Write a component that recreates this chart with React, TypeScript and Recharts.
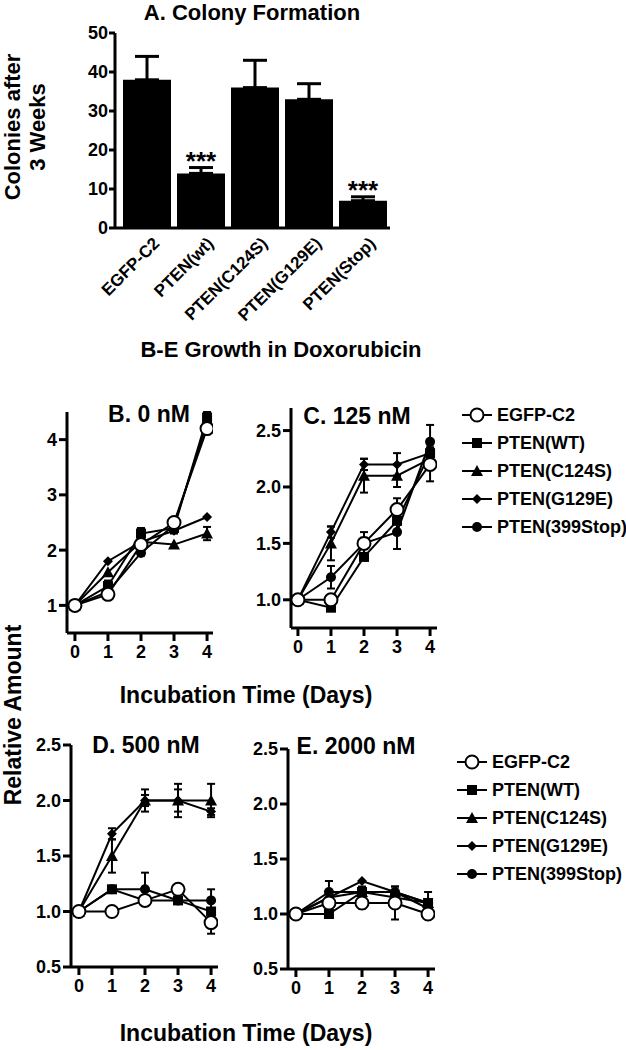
import React from "react";
import { ComposedChart, LineChart, Line, Bar, XAxis, YAxis, ErrorBar, Scatter } from "recharts";

const FONT = '"Liberation Sans", Arial, Helvetica, sans-serif';

// ---- A. colony formation ----
const colonyGroups = ["EGFP-C2", "PTEN(wt)", "PTEN(C124S)", "PTEN(G129E)", "PTEN(Stop)"];
const colonyMeans = [38, 14, 36, 33, 7];
const colonyErr = [6, 1.5, 7, 4, 1];
const colonySig = ["", "***", "", "", "***"];
const colonyTicks = [0, 10, 20, 30, 40, 50];

// ---- B-E growth curves ----
const days = [0, 1, 2, 3, 4];
const seriesNames = ["EGFP-C2", "PTEN(WT)", "PTEN(C124S)", "PTEN(G129E)", "PTEN(399Stop)"];
const seriesKeys = ["egfp", "wt", "c124s", "g129e", "stop"];
const seriesShapes = ["open", "square", "triangle", "diamond", "dot"];

// rows follow seriesNames order
const b0Values = [
  [1, 1.2, 2.1, 2.5, 4.2],
  [1, 1.35, 2.3, 2.4, 4.4],
  [1, 1.6, 2.15, 2.1, 2.3],
  [1, 1.8, 2.15, 2.35, 2.6],
  [1, 1.25, 1.95, 2.45, 4.3],
];
const b0Errors = [
  [0, 0.05, 0.05, 0.05, 0.1],
  [0, 0.1, 0.1, 0.1, 0.1],
  [0, 0, 0, 0, 0.12],
  [0, 0, 0, 0, 0],
  [0, 0.05, 0.05, 0.1, 0.15],
];

const c125Values = [
  [1, 1.0, 1.5, 1.8, 2.2],
  [1, 0.93, 1.38, 1.7, 2.3],
  [1, 1.5, 2.1, 2.1, 2.25],
  [1, 1.6, 2.2, 2.2, 2.3],
  [1, 1.2, 1.5, 1.6, 2.4],
];
const c125Errors = [
  [0, 0, 0.1, 0.1, 0.15],
  [0, 0, 0, 0, 0],
  [0, 0.15, 0.15, 0.1, 0.1],
  [0, 0.05, 0.05, 0.1, 0.1],
  [0, 0.1, 0.05, 0.15, 0.15],
];

const d500Values = [
  [1, 1.0, 1.1, 1.2, 0.9],
  [1, 1.2, 1.1, 1.1, 1.0],
  [1, 1.5, 2.0, 2.0, 2.0],
  [1, 1.7, 2.0, 2.0, 1.9],
  [1, 1.2, 1.2, 1.1, 1.1],
];
const d500Errors = [
  [0, 0, 0.03, 0.03, 0.1],
  [0, 0.03, 0.03, 0.03, 0.03],
  [0, 0.15, 0.1, 0.15, 0.15],
  [0, 0.05, 0.05, 0.1, 0.03],
  [0, 0.03, 0.15, 0.03, 0.1],
];

const e2000Values = [
  [1, 1.1, 1.1, 1.1, 1.0],
  [1, 1.0, 1.2, 1.15, 1.1],
  [1, 1.15, 1.2, 1.2, 1.1],
  [1, 1.15, 1.3, 1.2, 1.05],
  [1, 1.2, 1.2, 1.2, 1.1],
];
const e2000Errors = [
  [0, 0.03, 0.05, 0.15, 0.03],
  [0, 0, 0.03, 0.03, 0.03],
  [0, 0, 0, 0, 0],
  [0, 0, 0, 0, 0],
  [0, 0.1, 0.05, 0.05, 0.1],
];

const colonyRows = colonyGroups.map((g, i) => ({
  group: g,
  mean: colonyMeans[i],
  errBar: [0, colonyErr[i]],
  sig: colonySig[i],
  starY: colonySig[i] ? colonyMeans[i] + colonyErr[i] : null,
}));

function buildRows(values: number[][], errors: number[][]) {
  return days.map((d, i) => {
    const row: any = { day: d };
    seriesKeys.forEach((k, s) => {
      row[k] = values[s][i];
      row[k + "Err"] = errors[s][i] || null;
    });
    return row;
  });
}

function Marker({ cx, cy, shape }: any) {
  if (cx == null || cy == null) return null;
  switch (shape) {
    case "open":
      return <circle cx={cx} cy={cy} r={6.5} fill="#fff" stroke="#000" strokeWidth={2} />;
    case "square":
      return <rect x={cx - 5} y={cy - 5} width={10} height={10} fill="#000" />;
    case "triangle":
      return <polygon points={`${cx},${cy - 6} ${cx - 6},${cy + 5} ${cx + 6},${cy + 5}`} fill="#000" />;
    case "diamond":
      return <polygon points={`${cx},${cy - 5} ${cx + 5},${cy} ${cx},${cy + 5} ${cx - 5},${cy}`} fill="#000" />;
    default:
      return <circle cx={cx} cy={cy} r={5} fill="#000" />;
  }
}

const axisStyle = { stroke: "#000", strokeWidth: 3 };

function XTick({ x, y, payload }: any) {
  return (
    <text x={x} y={y} dy="0.71em" textAnchor="middle" fontSize={18} fontWeight={700} fontFamily={FONT} fill="#000">
      {payload.value}
    </text>
  );
}

function YTick({ x, y, payload, decimals }: any) {
  return (
    <text x={x} y={y} dy="0.36em" textAnchor="end" fontSize={18} fontWeight={700} fontFamily={FONT} fill="#000">
      {Number(payload.value).toFixed(decimals || 0)}
    </text>
  );
}

// open circles drawn last so they sit on top
const drawOrder = [1, 2, 3, 4, 0];

function GrowthPanel({ left, top, margin, yWidth, xDomain, yDomain, yTicks, decimals, values, errors }: any) {
  const rows = buildRows(values, errors);
  return (
    <div style={{ position: "absolute", left, top }}>
      <LineChart width={240} height={290} data={rows} margin={margin}>
        <XAxis
          dataKey="day"
          type="number"
          domain={xDomain}
          allowDataOverflow
          ticks={days}
          height={30}
          tickSize={8}
          tickMargin={4}
          axisLine={axisStyle}
          tickLine={axisStyle}
          tick={<XTick />}
        />
        <YAxis
          type="number"
          domain={yDomain}
          allowDataOverflow
          ticks={yTicks}
          width={yWidth}
          tickSize={8}
          tickMargin={2}
          axisLine={axisStyle}
          tickLine={axisStyle}
          tick={<YTick decimals={decimals} />}
        />
        {drawOrder.map((s) => (
          <Line
            key={seriesKeys[s]}
            dataKey={seriesKeys[s]}
            name={seriesNames[s]}
            stroke="#000"
            strokeWidth={2}
            isAnimationActive={false}
            activeDot={false}
            dot={(p: any) => <Marker key={`${seriesKeys[s]}-${p.index}`} cx={p.cx} cy={p.cy} shape={seriesShapes[s]} />}
          >
            <ErrorBar dataKey={seriesKeys[s] + "Err"} width={4} strokeWidth={2} stroke="#000" direction="y" />
          </Line>
        ))}
      </LineChart>
    </div>
  );
}

function GrowthLegend({ left, top }: any) {
  return (
    <svg style={{ position: "absolute", left, top }} width={170} height={145}>
      {seriesNames.map((n, i) => {
        const y = 12 + i * 28;
        return (
          <g key={n}>
            <line x1={2} x2={32} y1={y} y2={y} stroke="#000" strokeWidth={2} />
            <Marker cx={17} cy={y} shape={seriesShapes[i]} />
            <text x={37} y={y} dy="0.36em" fontSize={18} fontWeight={700} fontFamily={FONT} fill="#000">
              {n}
            </text>
          </g>
        );
      })}
    </svg>
  );
}

function RotatedTick({ x, y, payload }: any) {
  return (
    <g transform={`translate(${x + 5},${y + 2}) rotate(-45)`}>
      <text x={0} y={0} dy="0.71em" textAnchor="end" fontSize={17} fontWeight={700} fontFamily={FONT} fill="#000">
        {payload.value}
      </text>
    </g>
  );
}

function Stars({ cx, cy, payload }: any) {
  if (!payload || !payload.sig || cy == null || isNaN(cy)) return <g />;
  return (
    <text x={cx} y={cy + 2} textAnchor="middle" fontSize={26} fontWeight={700} fontFamily={FONT} fill="#000">
      {payload.sig}
    </text>
  );
}

function Label({ x, y, size, text, rotate }: any) {
  return (
    <div
      style={{
        position: "absolute",
        left: x,
        top: y,
        transform: `translate(-50%,-50%)${rotate ? " rotate(-90deg)" : ""}`,
        fontSize: size,
        fontWeight: 700,
        whiteSpace: "nowrap",
        lineHeight: 1.15,
        textAlign: "center",
      }}
    >
      {text}
    </div>
  );
}

export default function App() {
  return (
    <div
      style={{
        position: "absolute",
        left: 0,
        top: 0,
        width: 626,
        height: 1050,
        background: "#fff",
        fontFamily: FONT,
        color: "#000",
        overflow: "hidden",
      }}
    >
      <Label x={252} y={13} size={22} text="A. Colony Formation" />
      <Label
        x={25}
        y={127}
        size={22}
        rotate
        text={
          <>
            Colonies after
            <br />3 Weeks
          </>
        }
      />
      <div style={{ position: "absolute", left: 0, top: 10 }}>
        <ComposedChart width={410} height={320} data={colonyRows} margin={{ top: 23, right: 20, bottom: 12, left: 0 }}>
          <XAxis
            dataKey="group"
            type="category"
            height={90}
            interval={0}
            padding={{ left: 5, right: 0 }}
            tickLine={false}
            tickSize={4}
            axisLine={axisStyle}
            tick={<RotatedTick />}
          />
          <YAxis
            type="number"
            domain={[0, 50]}
            ticks={colonyTicks}
            width={115}
            tickSize={6}
            tickMargin={1}
            axisLine={axisStyle}
            tickLine={axisStyle}
            tick={<YTick decimals={0} />}
          />
          <Bar dataKey="mean" fill="#000" barSize={48} isAnimationActive={false}>
            <ErrorBar dataKey="errBar" width={12} strokeWidth={3} stroke="#000" direction="y" />
          </Bar>
          <Scatter dataKey="starY" shape={<Stars />} isAnimationActive={false} />
        </ComposedChart>
      </div>

      <Label x={281} y={350} size={22} text="B-E Growth in Doxorubicin" />

      <GrowthPanel
        left={0}
        top={380}
        margin={{ top: 32, right: 27, bottom: 7, left: 0 }}
        yWidth={67}
        xDomain={[-0.24, 4.18]}
        yDomain={[0.5, 4.5]}
        yTicks={[1, 2, 3, 4]}
        decimals={0}
        values={b0Values}
        errors={b0Errors}
      />
      <GrowthPanel
        left={220}
        top={380}
        margin={{ top: 28, right: 23, bottom: 12, left: 0 }}
        yWidth={71}
        xDomain={[-0.21, 4.21]}
        yDomain={[0.75, 2.7]}
        yTicks={[1.0, 1.5, 2.0, 2.5]}
        decimals={1}
        values={c125Values}
        errors={c125Errors}
      />
      <Label x={149} y={414} size={23} text="B. 0 nM" />
      <Label x={357} y={416} size={23} text="C. 125 nM" />
      <GrowthLegend left={460} top={403} />
      <Label x={246} y={695} size={23} text="Incubation Time (Days)" />

      <Label x={13} y={715} size={23} rotate text="Relative Amount" />

      <GrowthPanel
        left={0}
        top={715}
        margin={{ top: 30, right: 22, bottom: 8, left: 0 }}
        yWidth={71}
        xDomain={[-0.24, 4.21]}
        yDomain={[0.5, 2.5]}
        yTicks={[0.5, 1.0, 1.5, 2.0, 2.5]}
        decimals={1}
        values={d500Values}
        errors={d500Errors}
      />
      <GrowthPanel
        left={220}
        top={715}
        margin={{ top: 34, right: 25, bottom: 6, left: 0 }}
        yWidth={68}
        xDomain={[-0.24, 4.21]}
        yDomain={[0.5, 2.5]}
        yTicks={[0.5, 1.0, 1.5, 2.0, 2.5]}
        decimals={1}
        values={e2000Values}
        errors={e2000Errors}
      />
      <Label x={146} y={745} size={23} text="D. 500 nM" />
      <Label x={356} y={746} size={23} text="E. 2000 nM" />
      <GrowthLegend left={455} top={750} />
      <Label x={246} y={1033} size={23} text="Incubation Time (Days)" />
    </div>
  );
}
